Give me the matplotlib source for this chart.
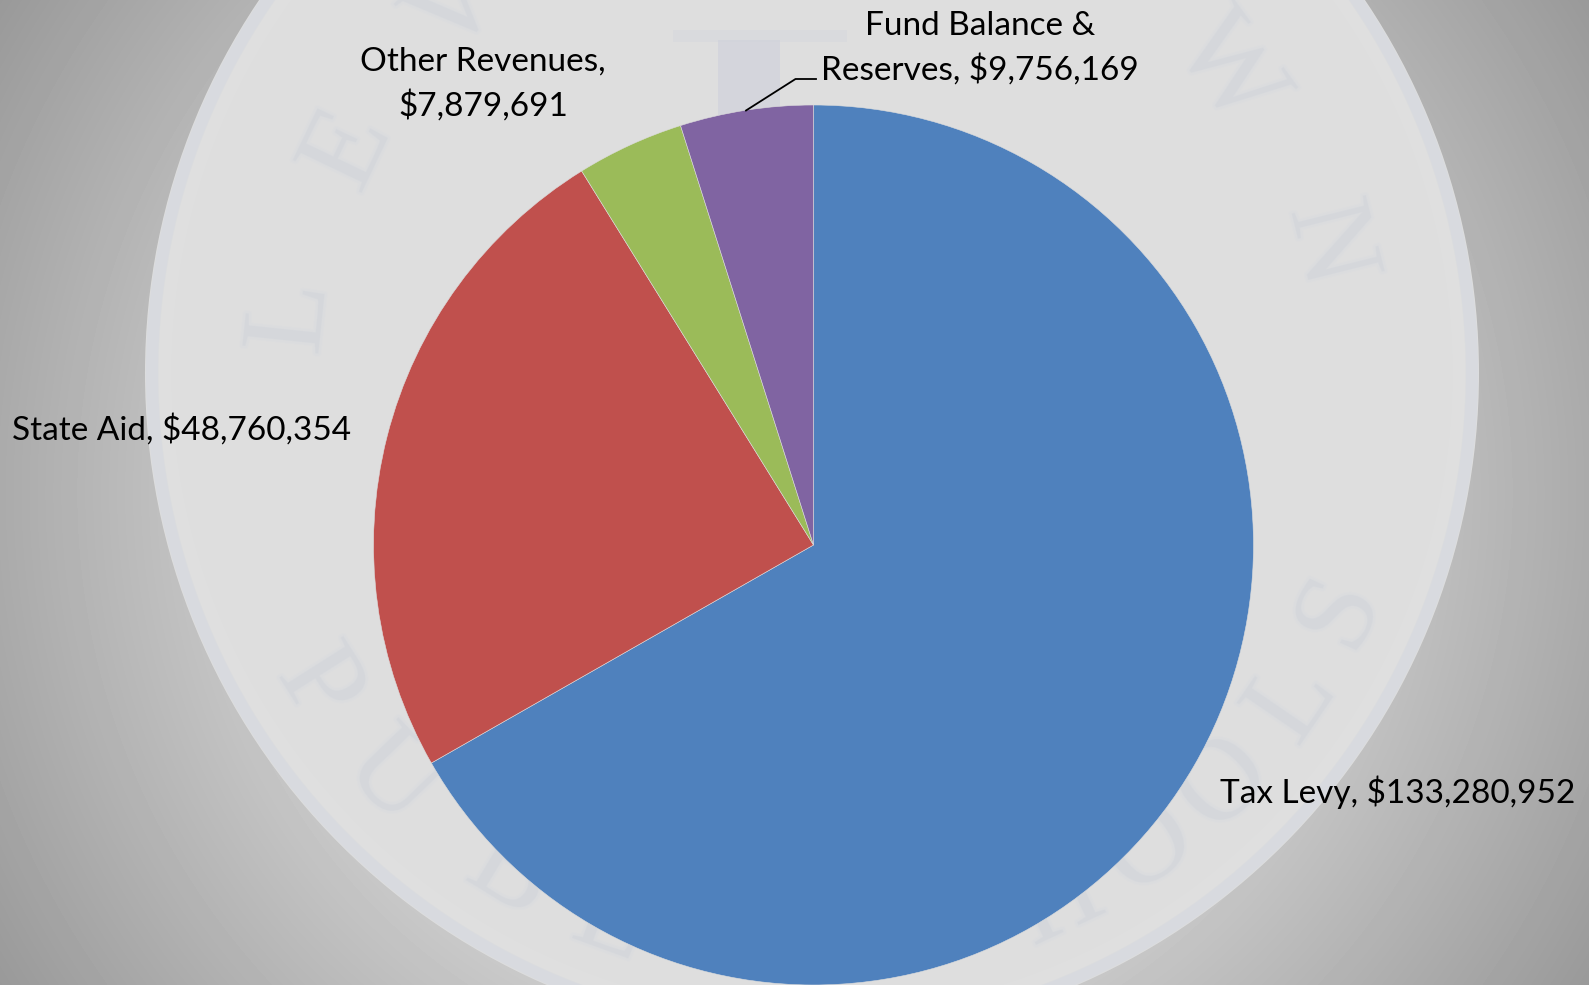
import numpy as np
import matplotlib
matplotlib.use('Agg')
import matplotlib.pyplot as plt
from matplotlib.patches import Circle, Rectangle
import matplotlib.patheffects as pe

# Revenue data
categories = ['Tax Levy', 'State Aid', 'Other Revenues', 'Fund Balance &\nReserves']
values = [133280952, 48760354, 7879691, 9756169]
colors = ['#4F81BD', '#C0504D', '#9BBB59', '#8064A2']

# faint seal lettering: letter, clockwise angle from the top of the seal (deg), radius
seal_top = ['L', 'E', 'V', 'W', 'N']
seal_top_ang = [276, 295.6, 315.6, 54, 76]
seal_top_r = [521, 512, 508, 513, 532]
seal_bot = ['P', 'U', 'B', 'L', 'H', 'O', 'O', 'L', 'S']
seal_bot_ang = [237.6, 226, 211, 200, 155, 144.7, 135, 124.4, 114.7]
seal_bot_r = 585

W, H = 1589, 985
plt.rcParams['font.family'] = ['Lato', 'DejaVu Sans']

fig = plt.figure(figsize=(W / 100, H / 100), dpi=100)
ax = fig.add_axes([0, 0, 1, 1])

# grey radial background
xx, yy = np.meshgrid(np.arange(W), np.arange(H))
d = np.hypot(xx - W / 2, yy - H / 2)
bg = np.clip(270 - 0.125 * d, 0, 255) / 255
ax.imshow(bg, cmap='gray', vmin=0, vmax=1, extent=(0, W, 0, H), origin='upper', zorder=0)

# the seal behind the chart
cx, cy, R = 812, 373, 667
ax.add_patch(Circle((cx, H - cy), R, fc='#DEDEDE', ec='none', zorder=1))
ax.add_patch(Circle((cx, H - cy), R - 7, fc='none', ec='#D4D8E0', lw=9, alpha=0.5, zorder=1))
ax.add_patch(Circle((cx, H - cy), R - 20, fc='none', ec='#E0E1E1', lw=9, alpha=0.6, zorder=1))

seal_style = dict(family='Liberation Serif', fontsize=84, color='#D3D6DB', alpha=0.5,
                  ha='center', va='center', zorder=2)
blur = [pe.withStroke(linewidth=4, foreground='#DADCDF', alpha=0.5)]
for ch, a, r in zip(seal_top, seal_top_ang, seal_top_r):
    t = np.radians(a)
    ax.text(cx + r * np.sin(t), H - cy + r * np.cos(t), ch, rotation=-a,
            path_effects=blur, clip_on=True, **seal_style)
for ch, a in zip(seal_bot, seal_bot_ang):
    t = np.radians(a)
    ax.text(cx + seal_bot_r * np.sin(t), H - cy + seal_bot_r * np.cos(t), ch, rotation=180 - a,
            path_effects=blur, clip_on=True, **seal_style)

# emblem column at the top of the seal
ax.add_patch(Rectangle((673, H - 42), 174, 12, fc='#D6D8DD', ec='none', alpha=0.5, zorder=2))
ax.add_patch(Rectangle((718, H - 115), 62, 75, fc='#CED0DB', ec='none', alpha=0.6, zorder=2))

# the pie
wedges, _ = ax.pie(values, colors=colors, startangle=90, counterclock=False,
                   center=(813.5, H - 545), radius=440, frame=True,
                   wedgeprops=dict(edgecolor='#DDDDDD', linewidth=0.4))
for w in wedges:
    w.set_zorder(3)

ax.set_xlim(0, W)
ax.set_ylim(0, H)
ax.set_aspect('auto')
ax.axis('off')

# data labels
labels = [c + ', $' + format(v, ',') for c, v in zip(categories, values)]
labels[2] = categories[2] + ',\n$' + format(values[2], ',')
fs = 24
ax.text(1398, H - 792, labels[0], fontsize=fs, ha='center', va='center', color='black', zorder=5)
ax.text(182, H - 430, labels[1], fontsize=fs, ha='center', va='center', color='black', zorder=5)
ax.text(483, H - 84, labels[2], fontsize=fs, ha='center', va='center', color='black',
        linespacing=1.5, zorder=5)
ax.text(980, H - 48, labels[3], fontsize=fs, ha='center', va='center', color='black',
        linespacing=1.5, zorder=5)

# leader line for the fund balance label
ax.plot([746, 795.5, 816], [H - 110.5, H - 79, H - 79], color='black', lw=1.3, zorder=4)

fig.savefig('out.png', dpi=100)
